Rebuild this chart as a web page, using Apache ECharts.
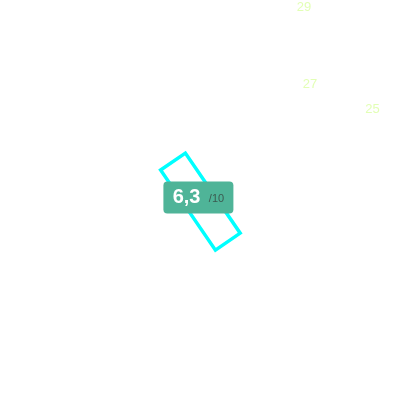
<!DOCTYPE html>
<html>
<head>
<meta charset="utf-8">
<script src="https://cdn.jsdelivr.net/npm/echarts@6/dist/echarts.min.js"></script>
<style>
    html, body { margin: 0; padding: 0; background: #fff; }
    #main { width: 400px; height: 400px; }
</style>
</head>
<body>
<div id="main"></div>
<script>
// 数据
var scoreValue = [6.3];
var scoreMax = 10;
var sideMin = 25;
var sideMax = 29;

var myChart = echarts.init(document.getElementById('main'));

var option = {
    series: [{
        // 评分仪表盘，只显示指针和中间的分数
        type: 'gauge',
        center: [200.4, 201.6],
        radius: 100,
        min: 0,
        max: scoreMax,
        startAngle: 294.5,
        endAngle: 24.5,
        axisLine: { show: false },
        splitLine: { show: false },
        axisTick: { show: false },
        axisLabel: { show: false },
        progress: { show: false },
        anchor: { show: false },
        title: { show: false },
        pointer: {
            icon: 'rect',
            width: 30,
            length: '97%',
            offsetCenter: [0, '48.5%'],
            showAbove: false
        },
        itemStyle: {
            color: 'transparent',
            borderColor: '#00ffff',
            borderWidth: 3.5
        },
        detail: {
            offsetCenter: [-2, -4],
            width: 50,
            height: 22,
            lineHeight: 22,
            backgroundColor: '#4fb498',
            borderRadius: 4,
            padding: [5, 10, 5, 10],
            formatter: function (v) {
                return '{a|' + String(v).replace('.', ',') + '} {b|/' + scoreMax + '}';
            },
            rich: {
                a: { color: '#fff', fontSize: 20, fontWeight: 'bold', fontFamily: 'sans-serif', lineHeight: 22 },
                b: { color: '#3b5a50', fontSize: 11, fontWeight: 'normal', fontFamily: 'sans-serif', lineHeight: 22, padding: [3, 0, 0, 0] }
            }
        },
        data: [{ value: scoreValue[0] }]
    }, {
        // 右上角浅色刻度
        type: 'gauge',
        center: [364.6, 41],
        radius: 75.5,
        min: sideMin,
        max: sideMax,
        splitNumber: 2,
        startAngle: 276,
        endAngle: 154,
        axisLine: { show: false, lineStyle: { width: 0 } },
        splitLine: { show: false, length: 0, distance: 0 },
        axisTick: { show: false },
        axisLabel: {
            distance: 0,
            color: '#e2ffb5',
            fontSize: 13,
            fontFamily: 'sans-serif'
        },
        pointer: { show: false },
        anchor: { show: false },
        progress: { show: false },
        title: { show: false },
        detail: { show: false },
        data: [{ value: sideMin }]
    }]
};

if (option && typeof option === 'object') {
    myChart.setOption(option, true);
}
</script>
</body>
</html>
